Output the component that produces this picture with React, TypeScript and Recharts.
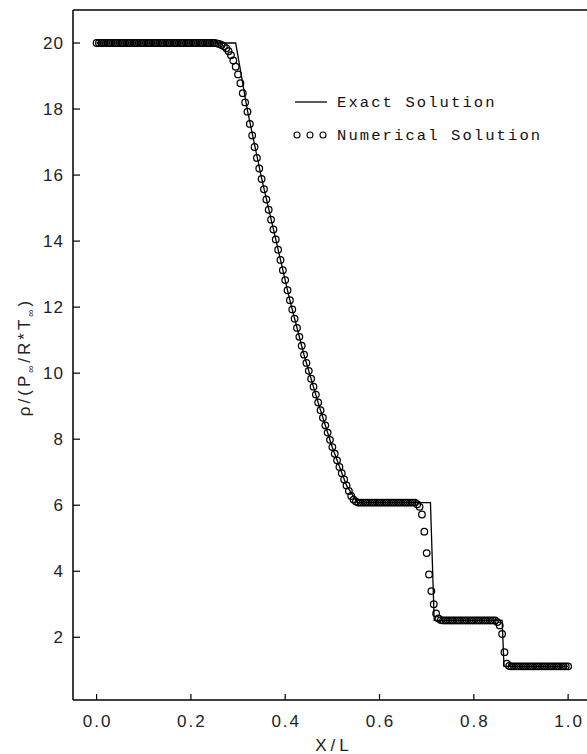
import React from 'react';
import { ComposedChart, Line, Scatter, XAxis, YAxis, ReferenceLine, Legend } from 'recharts';

const xTicks = [0, 0.2, 0.4, 0.6, 0.8, 1.0];
const yTicks = [2, 4, 6, 8, 10, 12, 14, 16, 18, 20];

// Exact solution (piecewise)
const exactX = [0, 0.295, 0.32, 0.35, 0.38, 0.41, 0.44, 0.47, 0.5, 0.53, 0.553, 0.708, 0.716, 0.86, 0.864, 1.0];
const exactY = [20, 20, 17.95, 15.9, 14.05, 12.2, 10.55, 9.1, 7.75, 6.6, 6.08, 6.08, 2.51, 2.51, 1.12, 1.12];

// Numerical solution on uniform grid
const numStep = 0.005;
const numY = [
  20.0, 20.0, 20.0, 20.0, 20.0, 20.0, 20.0, 20.0, 20.0, 20.0,
  20.0, 20.0, 20.0, 20.0, 20.0, 20.0, 20.0, 20.0, 20.0, 20.0,
  20.0, 20.0, 20.0, 20.0, 20.0, 20.0, 20.0, 20.0, 20.0, 20.0,
  20.0, 20.0, 20.0, 20.0, 20.0, 20.0, 20.0, 20.0, 20.0, 20.0,
  20.0, 20.0, 20.0, 20.0, 20.0, 20.0, 20.0, 20.0, 20.0, 20.0,
  20.0,
  19.99, 19.97, 19.94, 19.9, 19.84, 19.75, 19.63, 19.47, 19.28,
  19.05, 18.78, 18.48, 18.2,
  17.92, 17.55, 17.2, 16.85, 16.52, 16.2,
  15.88, 15.57, 15.26, 14.95, 14.65, 14.35,
  14.05, 13.74, 13.43, 13.12,
  12.82, 12.51, 12.21, 11.93, 11.65, 11.37,
  11.1, 10.83, 10.56, 10.31,
  10.07, 9.83, 9.59, 9.35, 9.11, 8.88,
  8.65, 8.42, 8.2, 7.98,
  7.76, 7.56, 7.36, 7.16, 6.97, 6.78,
  6.6, 6.43, 6.28, 6.17,
  6.11, 6.08,
  6.08, 6.08, 6.08, 6.08, 6.08, 6.08, 6.08, 6.08, 6.08, 6.08, 6.08, 6.08,
  6.08, 6.08, 6.08, 6.08, 6.08, 6.08, 6.08, 6.08, 6.08, 6.08, 6.08, 6.08,
  6.03, 5.95, 5.72, 5.2,
  4.55, 3.9, 3.4, 3.0,
  2.72, 2.57, 2.52,
  2.51, 2.51, 2.51, 2.51, 2.51, 2.51, 2.51, 2.51, 2.51, 2.51, 2.51, 2.51,
  2.51, 2.51, 2.51, 2.51, 2.51, 2.51, 2.51, 2.51, 2.51, 2.51, 2.51,
  2.46, 2.36, 2.1, 1.55,
  1.2, 1.13,
  1.12, 1.12, 1.12, 1.12, 1.12, 1.12, 1.12, 1.12, 1.12, 1.12, 1.12, 1.12, 1.12,
  1.12, 1.12, 1.12, 1.12, 1.12, 1.12, 1.12, 1.12, 1.12, 1.12, 1.12, 1.12,
];

const exactData = exactX.map((x, i) => ({ x, y: exactY[i] }));
const numData = numY.map((y, i) => ({ x: +(i * numStep).toFixed(3), y }));

const SANS = 'Liberation Sans, Arial, sans-serif';
const MONO = 'Liberation Mono, DejaVu Sans Mono, monospace';

const XTick = (props: any) => {
  const { x, y, payload } = props;
  return (
    <g>
      <line x1={x} x2={x} y1={y} y2={y - 6} stroke="#000" strokeWidth={1.2} />
      <text x={x + 1} y={y + 27} textAnchor="middle" fontSize={17} fill="#222" fontFamily={SANS} letterSpacing={2}>
        {Number(payload.value).toFixed(1)}
      </text>
    </g>
  );
};

const YTick = (props: any) => {
  const { x, y, payload } = props;
  return (
    <g>
      <line x1={x} x2={x + 7} y1={y} y2={y} stroke="#000" strokeWidth={1.2} />
      <text x={x - 9} y={y + 6} textAnchor="end" fontSize={17} fill="#222" fontFamily={SANS} letterSpacing={1}>
        {payload.value}
      </text>
    </g>
  );
};

const YLabel = () => (
  <text
    transform="translate(30, 357) rotate(-90)"
    textAnchor="middle"
    fontSize={17}
    fill="#222"
    fontFamily={SANS}
    letterSpacing={3}
  >
    ρ/(P
    <tspan fontSize={10} dy={4}>∞</tspan>
    <tspan dy={-4}>/R*T</tspan>
    <tspan fontSize={10} dy={4}>∞</tspan>
    <tspan dy={-4}>)</tspan>
  </text>
);

const XLabel = () => (
  <text x={334} y={751} textAnchor="middle" fontSize={17} fill="#222" fontFamily={SANS} letterSpacing={4}>
    X/L
  </text>
);

const LegendBox = () => (
  <svg width={290} height={70} style={{ display: 'block', overflow: 'visible' }}>
    <line x1={5} x2={37} y1={17} y2={17} stroke="#000" strokeWidth={1.3} />
    <text x={47} y={22} fontSize={15.5} fill="#111" fontFamily={MONO} letterSpacing={2.1}>
      Exact Solution
    </text>
    <circle cx={7} cy={50} r={3} fill="none" stroke="#000" strokeWidth={1.1} />
    <circle cx={20} cy={50} r={3} fill="none" stroke="#000" strokeWidth={1.1} />
    <circle cx={33} cy={50} r={3} fill="none" stroke="#000" strokeWidth={1.1} />
    <text x={47} y={55} fontSize={15.5} fill="#111" fontFamily={MONO} letterSpacing={2.1}>
      Numerical Solution
    </text>
  </svg>
);

const CircleShape = (props: any) => (
  <circle cx={props.cx} cy={props.cy} r={3.3} fill="none" stroke="#000" strokeWidth={1.25} />
);

export default function App() {
  return (
    <div style={{ position: 'absolute', left: 0, top: 0, width: 587, height: 754, background: '#fff' }}>
      <ComposedChart width={587} height={754} margin={{ top: 10, right: 0, bottom: 0, left: 0 }}>
        <XAxis
          type="number"
          dataKey="x"
          domain={[-0.05, 1.04]}
          ticks={xTicks}
          allowDataOverflow
          height={54}
          tickSize={0}
          tickMargin={0}
          tickLine={false}
          axisLine={{ stroke: '#000', strokeWidth: 1.5 }}
          tick={<XTick />}
          label={<XLabel />}
        />
        <YAxis
          type="number"
          dataKey="y"
          domain={[0.1, 21]}
          ticks={yTicks}
          allowDataOverflow
          width={73}
          tickSize={0}
          tickMargin={0}
          tickLine={false}
          axisLine={{ stroke: '#000', strokeWidth: 1.5 }}
          tick={<YTick />}
          label={<YLabel />}
        />
        <ReferenceLine y={21} stroke="#000" strokeWidth={1.3} />
        <Line
          data={exactData}
          dataKey="y"
          type="linear"
          stroke="#000"
          strokeWidth={1.3}
          dot={false}
          isAnimationActive={false}
        />
        <Scatter data={numData} dataKey="y" shape={<CircleShape />} isAnimationActive={false} />
        <Legend
          layout="vertical"
          align="center"
          verticalAlign="middle"
          content={<LegendBox />}
          wrapperStyle={{ left: 290, top: 85, width: 290, height: 70 }}
        />
      </ComposedChart>
    </div>
  );
}
